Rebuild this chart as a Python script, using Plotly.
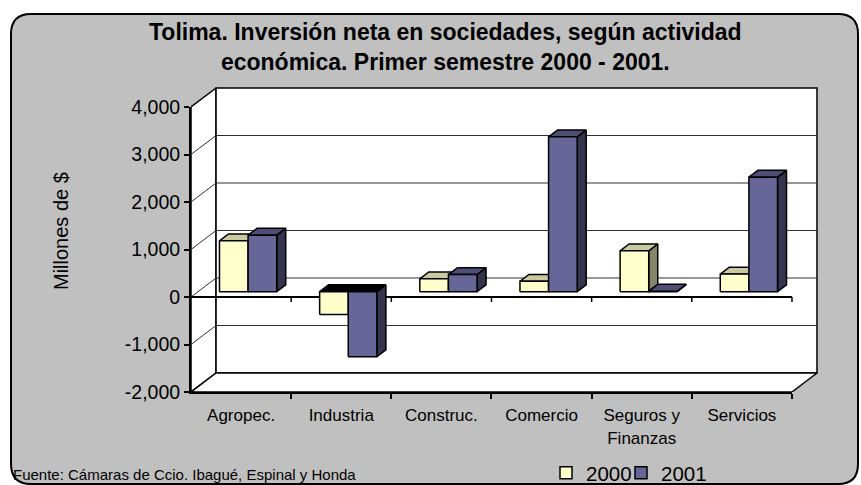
import plotly.graph_objects as go

# ---------------- data ----------------
categories = ["Agropec.", "Industria", "Construc.", "Comercio", "Seguros y<br>Finanzas", "Servicios"]
series_names = ["2000", "2001"]
values_2000 = [1070, -480, 270, 220, 860, 370]
values_2001 = [1190, -1370, 360, 3260, 10, 2410]
y_tick_vals = [-2000, -1000, 0, 1000, 2000, 3000, 4000]
y_tick_text = ["-2,000", "-1,000", "0", "1,000", "2,000", "3,000", "4,000"]

title_text = "<b>Tolima. Inversión neta en sociedades, según actividad<br>económica. Primer semestre 2000 - 2001.</b>"
y_title = "Millones de $"
source_text = "Fuente: Cámaras de Ccio. Ibagué, Espinal y Honda"

# ---------------- styling / geometry ----------------
FONT = "Liberation Sans, Arial, sans-serif"
W, H = 861, 485
ML, MR, MT, MB = 191, 43, 86, 93
PW, PH = W - ML - MR, H - MT - MB
N = len(categories)
YMIN, YMAX = y_tick_vals[0], y_tick_vals[-1]
SX = 100.16                 # px per category unit
SY = 285 / (YMAX - YMIN)    # px per value unit
XR = PW / SX
DX, DY = 0.25, 400          # depth offset (category units, value units)
D0, D1 = 0.28, 0.64         # bar depth span
GAP = 0.2143
BW = 0.2857

front_cols = ["#FFFFCC", "#666699"]
top_cols = ["#CACAA0", "#4D4D75"]
side_cols = ["#85856A", "#34344F"]
neg_top = "#000000"


def px2paper(px, py):
    return (px - ML) / PW, (H - MB - py) / PH


def P(x, d, v):
    return x + d * DX, v + d * DY


fig = go.Figure()


def poly(pts, fill, lw=1.5, color="black"):
    xs = [p[0] for p in pts] + [pts[0][0]]
    ys = [p[1] for p in pts] + [pts[0][1]]
    fig.add_trace(go.Scatter(x=xs, y=ys, mode="lines", fill="toself", fillcolor=fill,
                             line=dict(color=color, width=lw), hoverinfo="skip",
                             showlegend=False))


def seg(pts, lw=1.0, color="black"):
    xs, ys = [], []
    for a, b in pts:
        xs += [a[0], b[0], None]
        ys += [a[1], b[1], None]
    fig.add_trace(go.Scatter(x=xs, y=ys, mode="lines", line=dict(color=color, width=lw),
                             hoverinfo="skip", showlegend=False))


# walls
poly([P(0, 0, YMIN), P(0, 0, YMAX), P(0, 1, YMAX), P(0, 1, YMIN)], "white")
poly([P(0, 1, YMIN), P(N, 1, YMIN), P(N, 1, YMAX), P(0, 1, YMAX)], "white")
poly([P(0, 0, YMIN), P(N, 0, YMIN), P(N, 1, YMIN), P(0, 1, YMIN)], "white")

# gridlines on back wall and left-wall diagonals
inner = [v for v in y_tick_vals if YMIN < v < YMAX]
seg([(P(0, 1, v), P(N, 1, v)) for v in inner], lw=1, color="#303030")
seg([(P(0, 0, v), P(0, 1, v)) for v in inner], lw=1, color="#303030")

# front category axis at zero with tick marks
tick_len_v = 5 / SY
seg([(P(0, 0, 0), P(N, 0, 0))], lw=2)
seg([(P(j, 0, 0), P(j, 0, -tick_len_v)) for j in range(1, N + 1)], lw=1.5)

# bars
for i in range(N):
    for s, vals in enumerate([values_2000, values_2001]):
        v = vals[i]
        x0 = i + GAP + s * BW
        x1 = x0 + BW
        lo, hi = min(0, v), max(0, v)
        poly([P(x1, D0, lo), P(x1, D1, lo), P(x1, D1, hi), P(x1, D0, hi)], side_cols[s])
        poly([P(x0, D0, hi), P(x1, D0, hi), P(x1, D1, hi), P(x0, D1, hi)],
             top_cols[s] if v >= 0 else neg_top)
        poly([P(x0, D0, lo), P(x1, D0, lo), P(x1, D0, hi), P(x0, D0, hi)], front_cols[s])

# legend entries (each in its own legend box for exact placement)
legend_ids = ["legend", "legend2"]
for s, name in enumerate(series_names):
    fig.add_trace(go.Scatter(x=[None], y=[None], mode="markers", name=name,
                             legend=legend_ids[s],
                             marker=dict(symbol="square", size=12, color=front_cols[s],
                                         line=dict(color="black", width=1.5))))

# dummy trace for the front axes subplot
fig.add_trace(go.Scatter(x=[None], y=[None], xaxis="x2", yaxis="y2", showlegend=False,
                         hoverinfo="skip"))

# rounded chart-area background
L, T, R, B, r = 11, 14, 858, 484, 20


def pp(x, y):
    a, b = px2paper(x, y)
    return f"{a:.5f},{b:.5f}"


path = (f"M {pp(L + r, T)} L {pp(R - r, T)} Q {pp(R, T)} {pp(R, T + r)} "
        f"L {pp(R, B - r)} Q {pp(R, B)} {pp(R - r, B)} L {pp(L + r, B)} "
        f"Q {pp(L, B)} {pp(L, B - r)} L {pp(L, T + r)} Q {pp(L, T)} {pp(L + r, T)} Z")

ytop = YMAX + ((H - MB - 285) - MT) / SY

annotations = []
tx, ty = px2paper(445, 47)
annotations.append(dict(text=title_text, x=tx, y=ty, xref="paper", yref="paper",
                        xanchor="center", yanchor="middle", showarrow=False,
                        font=dict(family=FONT, size=23, color="black")))
ax_, ay_ = px2paper(61, 231)
annotations.append(dict(text=y_title, x=ax_, y=ay_, xref="paper", yref="paper",
                        textangle=-90, xanchor="center", yanchor="middle", showarrow=False,
                        font=dict(family=FONT, size=20, color="black")))
sx_, sy_ = px2paper(11, 474)
annotations.append(dict(text=source_text, x=sx_, y=sy_, xref="paper", yref="paper",
                        xanchor="left", yanchor="middle", showarrow=False,
                        font=dict(family=FONT, size=15, color="black")))

l1x, ly = px2paper(546, 473)
l2x, _ = px2paper(621, 473)
leg_common = dict(orientation="h", xanchor="left", yanchor="middle",
                  font=dict(family=FONT, size=20.5), bgcolor="rgba(0,0,0,0)")

fig.update_layout(
    width=W, height=H,
    margin=dict(l=ML, r=MR, t=MT, b=MB, autoexpand=False),
    paper_bgcolor="white", plot_bgcolor="rgba(0,0,0,0)",
    font=dict(family=FONT, color="black"),
    showlegend=True,
    legend=dict(x=l1x, y=ly, **leg_common),
    legend2=dict(x=l2x, y=ly, **leg_common),
    xaxis=dict(range=[0, XR], visible=False, fixedrange=True),
    yaxis=dict(range=[YMIN, ytop], visible=False, fixedrange=True),
    xaxis2=dict(domain=[0, N / XR], range=[0, N], anchor="y", showline=True,
                linecolor="black", linewidth=2, showgrid=False, zeroline=False,
                tickmode="array", tickvals=[i + 0.5 for i in range(N)], ticktext=categories,
                ticks="", ticklabelstandoff=7,
                tickfont=dict(family=FONT, size=17, color="black"),
                minor=dict(tickmode="array", tickvals=list(range(1, N + 1)), ticks="outside",
                           ticklen=5, tickwidth=1.5, tickcolor="black", showgrid=False),
                fixedrange=True),
    yaxis2=dict(domain=[0, 285 / PH], range=[YMIN, YMAX], anchor="x", showline=True,
                linecolor="black", linewidth=2, showgrid=False, zeroline=False,
                tickmode="array", tickvals=y_tick_vals, ticktext=y_tick_text,
                ticks="outside", ticklen=5, tickwidth=1.5, tickcolor="black",
                tickfont=dict(family=FONT, size=19.5, color="black"), fixedrange=True),
    shapes=[dict(type="path", path=path, xref="paper", yref="paper", layer="below",
                 fillcolor="#C0C0C0", line=dict(color="black", width=2))],
    annotations=annotations,
)

fig.write_html("out.html", config={"displayModeBar": False},
               post_script="document.body.style.margin='0';document.body.style.overflow='hidden';")
